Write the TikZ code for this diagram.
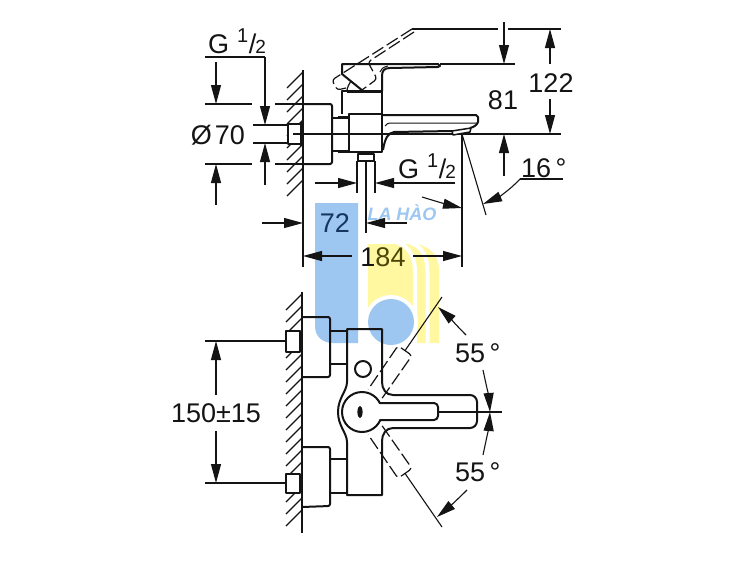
\documentclass[tikz,border=0pt]{standalone}
\usepackage{fontspec}
\setmainfont{Liberation Sans}
\usetikzlibrary{arrows.meta}
\definecolor{ink}{HTML}{141414}
\definecolor{wblue}{HTML}{9DC7F1}
\definecolor{wyellow}{HTML}{FFF8A0}
\definecolor{inkblue}{HTML}{15365F}
\definecolor{inkolive}{HTML}{4A4608}
\newcommand{\gthread}{{\fontsize{27}{27}\selectfont G}\hspace{8pt}\raisebox{11pt}{\fontsize{20}{20}\selectfont 1}\hspace{0.5pt}{\fontsize{27}{27}\selectfont /}\hspace{-1pt}{\fontsize{19}{19}\selectfont 2}}
\tikzset{
  x=1pt,y=-1pt,
  body/.style={draw=ink,line width=2pt,line join=round},
  thin part/.style={draw=ink,line width=1pt},
  hatchline/.style={draw=ink,line width=1.2pt},
  dimline/.style={draw=ink,line width=1.1pt},
  dimarrow/.style={draw=ink,line width=1.1pt,-{Triangle[length=19pt,width=10pt]}},
  levercase/.style={draw=ink,line width=1.2pt,dash pattern=on 13pt off 4pt,rounded corners=3pt},
  dimtext/.style={text=ink,inner sep=0pt,font=\fontsize{27}{27}\selectfont},
}
\begin{document}
\begin{tikzpicture}
\useasboundingbox (0,0) rectangle (750,560);
\fill[white] (0,0) rectangle (750,560);

% ---------- watermark
\fill[wblue] (315,203) -- (315,326) .. controls (315,337) and (323,343) .. (333,343) -- (358,343) -- (358,203) -- cycle;
\fill[wyellow] (368,244) -- (411,244) .. controls (430,244) and (439,255) .. (439,272) -- (439,343) -- (415,343) -- (415,322) -- (368,322) -- cycle;
\draw[white,line width=4pt] (398,243) .. controls (410,247) and (415,258) .. (415,272) -- (415,345);
\draw[white,line width=4pt] (411,243) .. controls (423,247) and (427.5,258) .. (427.5,272) -- (427.5,345);
\fill[white] (391,322) circle (27);
\fill[wblue] (391,322) circle (23);
\node[text=wblue,inner sep=0pt,font=\fontsize{18}{18}\selectfont\bfseries\itshape] (brand) at (402,213) {LA HÀO};

% ---------- top view: wall
\foreach \y in {72,84,...,180} \draw[hatchline] (303,\y) -- (287,\y+16);
\draw[dimline,line width=1.4pt] (303,70) -- (303,267);
% centre lines
\coordinate (cTop) at (293,134);
\coordinate (cTopEnd) at (561,134);
\draw[dimline] (cTop) -- (cTopEnd);
% plug
\draw[body,fill=white,line width=2.2pt] (288,124) rectangle (302,144);
\draw[dimline] (293,134) -- (302,134);
\draw[ink,line width=2.6pt] (301,122) -- (301,146);
% escutcheon, connector
\draw[body,rounded corners=2pt] (303,104) -- (332,104) -- (332,164) -- (303,164);
\draw[body,line width=1.2pt] (332,118) -- (348,118) (332,151) -- (348,151);
\draw[ink,line width=2.6pt] (338,117) -- (349,117) (338,152) -- (349,152);
% body
\draw[body] (349,114) rectangle (382,152);
\draw[body] (342,114) -- (342,91) -- (382,91) -- (382,114);
\draw[ink,line width=3pt] (347,91) -- (381,91);
% lever
\draw[body] (363,91) -- (342,74) -- (342,64) -- (438,64) -- (440,66) -- (438,67) -- (390,68) .. controls (384,68) and (382,71) .. (382,76) -- (382,91);
\draw[thin part] (380,72) .. controls (381,69) and (383,67) .. (388,66);
\draw[body,line width=1.2pt] (347,90) .. controls (348,86) and (349,84) .. (351,81);
% lifted lever
\draw[levercase] (412,29) -- (332,80) -- (337,90) -- (346,88);
\draw[levercase] (414,32) -- (368,62) -- (377,79) -- (362,90);
% spout
\draw[body] (382,115) -- (476,115) -- (478,117) -- (478,122) .. controls (477,125) and (474,127) .. (470,128);
\draw[body] (452,131) -- (394,132) .. controls (388,133) and (385,138) .. (383,150);
\draw[thin part] (385,126) .. controls (386,124) and (388,123) .. (392,123) -- (478,123);
\draw[body,line width=1.5pt,fill=white] (452,131) -- (471,128) -- (470,132) -- (453,135) -- cycle;
% tube
\draw[body,line width=1.5pt,fill=white] (358,154) rectangle (374,161);
\draw[dimline] (357,161) -- (357,193) (375,161) -- (375,193);
\coordinate (tubeAxisTop) at (366,161);
\coordinate (tubeAxisEnd) at (366,233);
\draw[dimline] (tubeAxisTop) -- (tubeAxisEnd);

% ---------- top view: dimensions
\node[dimtext,anchor=base west] (gleft) at (208,53) {\gthread};
\draw[dimline] (205,57) -- (265,57);
\draw[dimarrow] (265,57) -- (265,125);
\draw[dimarrow] (265,185) -- (265,143);
\draw[dimline] (253,125) -- (288,125) (253,143) -- (288,143);
\node[dimtext,anchor=east] (dia) at (245,135) {Ø\hspace{3pt}70};
\draw[dimline] (205,104) -- (252,104) (275,104) -- (303,104);
\draw[dimline] (205,164) -- (252,164) (275,164) -- (303,164);
\draw[dimarrow] (216,62) -- (216,104);
\draw[dimarrow] (216,205) -- (216,164);

\draw[dimline] (412,29) -- (498,29) (508,29) -- (561,29);
\draw[dimline] (440,64) -- (515,64);
\draw[dimarrow] (504,22) -- (504,64);
\draw[dimarrow] (504,176) -- (504,134);
\node[dimtext] (d81) at (503,100) {81};
\draw[dimarrow] (550,64) -- (550,29);
\draw[dimarrow] (550,99) -- (550,134);
\node[dimtext] (d122) at (551,83) {122};

\coordinate (outlet) at (462,134);
\draw[dimline] (outlet) -- (462,267);
\draw[dimline] (outlet) -- (486,215);
\node[dimtext,anchor=base west] (a16) at (521,177) {16\,°};
\draw[dimline] (520,179) -- (563,179);
\draw[dimarrow] (520,179) .. controls (510,190) and (497,198) .. (483,204);
\draw[dimarrow] (422,197) .. controls (435,201) and (449,205) .. (462,208);

\node[dimtext,anchor=base west] (gright) at (398,178) {\gthread};
\draw[dimline] (455,183) -- (400,183);
\draw[dimarrow] (400,183) -- (375,183);
\draw[dimarrow] (315,183) -- (357,183);

\node[dimtext,text=inkblue] (d72) at (335,223) {72};
\draw[dimarrow] (262,223) -- (303,223);
\draw[dimarrow] (407,223) -- (366,223);
\node[dimtext] (d184) at (383,257) {1\textcolor{inkolive}{84}};
\draw[dimarrow] (352,256) -- (303,256);
\draw[dimarrow] (413,256) -- (462,256);

% ---------- front view
\foreach \y in {294,306,...,512} \draw[hatchline] (302,\y) -- (286,\y+16);
\draw[dimline,line width=1.4pt] (302,292) -- (302,533);
\draw[body,fill=white,line width=2.2pt] (286,331) rectangle (300,352);
\draw[body,fill=white,line width=2.2pt] (286,474) rectangle (300,493);
\draw[dimline] (205,341) -- (286,341) (205,483) -- (286,483);
\node[dimtext] (d150) at (216,413) {150±15};
\draw[dimarrow] (216,395) -- (216,341);
\draw[dimarrow] (216,431) -- (216,483);
% plates
\draw[body,rounded corners=2pt] (302,317) -- (330,317) -- (330,377) -- (302,377);
\draw[body,rounded corners=2pt] (302,447) -- (330,447) -- (330,506) -- (302,507);
\draw[body,line width=1.6pt] (330,331) -- (347,331) (330,364) -- (347,364);
\draw[body,line width=1.6pt] (330,459) -- (347,459) (330,493) -- (347,493);
% casting
\draw[body] (347,382) -- (347,329) -- (382,329) -- (382,382) .. controls (382,389) and (386,395) .. (393,395);
\draw[body,rounded corners=7pt] (393,395) -- (477,395) -- (477,428) -- (393,428);
\draw[body] (393,428) .. controls (386,428) and (382,434) .. (382,441) -- (382,495) -- (347,495) -- (347,442);
\draw[body] (347,382) .. controls (347,391) and (338,398) .. (338,412) .. controls (338,426) and (347,433) .. (347,442);
\node[body,circle,minimum size=16pt,inner sep=0pt] (knob) at (363,369) {};
% hub and lever
\node[body,circle,minimum size=40pt,inner sep=0pt] (hub) at (362,412) {};
\fill[white] (376,404) rectangle (384,419);
\draw[body,rounded corners=4pt] (380,403) -- (438,403) -- (438,420) -- (380,420);
\fill[ink] (360,412) ellipse (2.6 and 6);
\coordinate (leverAxisEnd) at (502,412);
\draw[dimline] (438,412) -- (leverAxisEnd);
% swung lever, dashed
\draw[levercase] (382.2,398.1) -- (412,355.5) -- (398,345.7) -- (368.2,389.3);
\coordinate (axisUp) at (405,350.6);
\coordinate (axisUpEnd) at (442,297);
\draw[dimline] (axisUp) -- (axisUpEnd);
\draw[levercase] (382.2,425.9) -- (412,468.5) -- (398,478.3) -- (368.2,434.7);
\coordinate (axisDown) at (405,473.4);
\coordinate (axisDownEnd) at (442,527);
\draw[dimline] (axisDown) -- (axisDownEnd);
% angle dimensions
\node[dimtext,anchor=base west] (a55u) at (455,362) {55\,°};
\node[dimtext,anchor=base west] (a55d) at (455,481) {55\,°};
\draw[dimarrow] (466,335) .. controls (457,326) and (448,316) .. (438,307);
\draw[dimarrow] (483,370) .. controls (486,384) and (489,398) .. (490,412);
\draw[dimarrow] (483,455) .. controls (486,441) and (489,426) .. (490,412);
\draw[dimarrow] (467,490) .. controls (458,499) and (448,508) .. (437,517);
\end{tikzpicture}
\end{document}
